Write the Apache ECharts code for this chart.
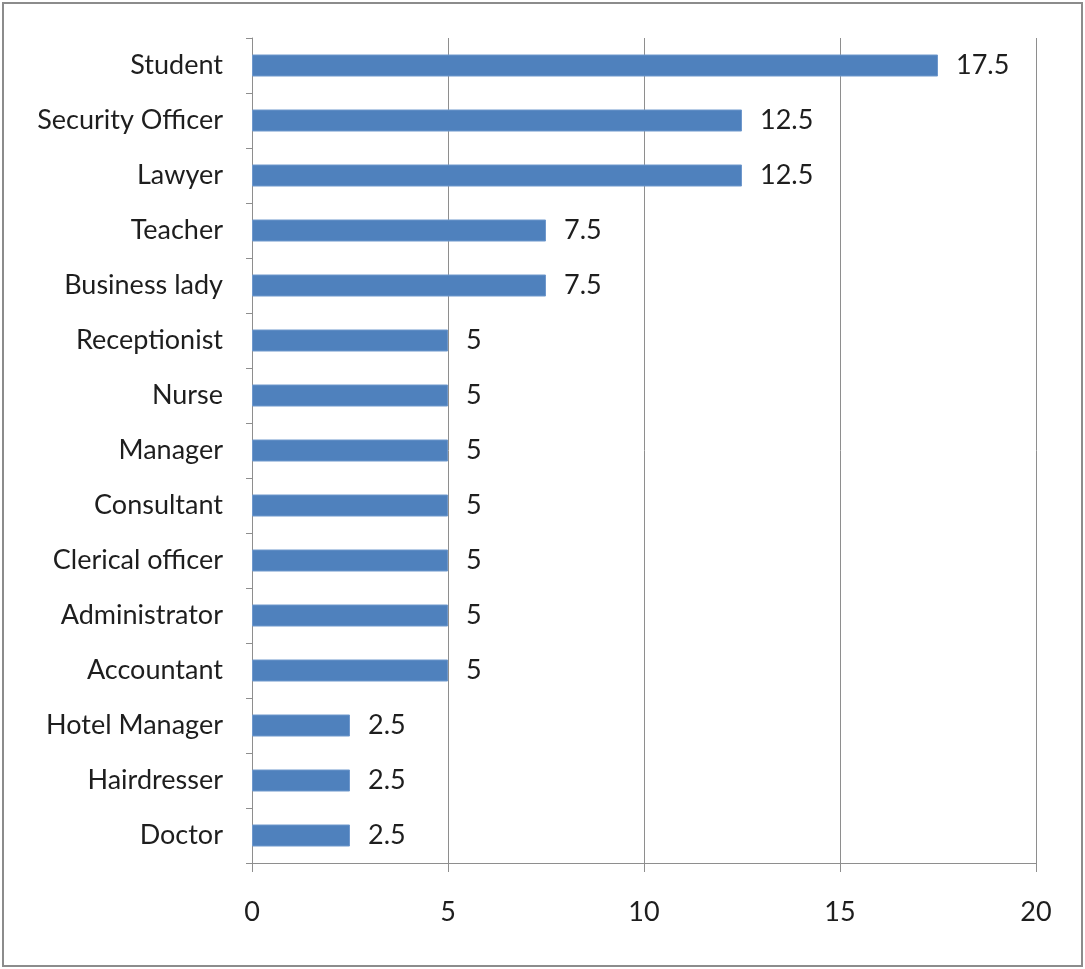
<!DOCTYPE html>
<html>
<head>
<meta charset="utf-8">
<script src="https://cdn.jsdelivr.net/npm/echarts@6/dist/echarts.min.js"></script>
<style>
  html, body { margin: 0; padding: 0; background: #fff; }
  #frame { position: absolute; left: 2px; top: 2px; width: 1077px; height: 961px; border: 2px solid #8c8c8c; box-sizing: content-box; }
  #chart { position: absolute; left: 0; top: 0; width: 1085px; height: 969px; }
</style>
</head>
<body>
<div id="frame"></div>
<div id="chart"></div>
<script>
// Occupations (bottom to top) and their percentages
const categories = ['Doctor', 'Hairdresser', 'Hotel Manager', 'Accountant', 'Administrator',
  'Clerical officer', 'Consultant', 'Manager', 'Nurse', 'Receptionist',
  'Business lady', 'Teacher', 'Lawyer', 'Security Officer', 'Student'];
const values = [2.5, 2.5, 2.5, 5, 5, 5, 5, 5, 5, 5, 7.5, 7.5, 12.5, 12.5, 17.5];
const xTicks = [0, 5, 10, 15, 20];

const FONT = 'Lato, "Open Sans", sans-serif';
const FONT_SIZE = 27;
const TEXT = '#1e1e1e';
const GRID = '#8e8e8e';

const chart = echarts.init(document.getElementById('chart'), null, { renderer: 'canvas' });
chart.setOption({
  animation: false,
  grid: { left: 252, right: 49, top: 38, bottom: 106, containLabel: false },
  xAxis: {
    type: 'value',
    min: xTicks[0],
    max: xTicks[xTicks.length - 1],
    interval: xTicks[1] - xTicks[0],
    axisLine: { show: true, lineStyle: { color: GRID, width: 1 } },
    axisTick: { show: true, length: 9, lineStyle: { color: GRID } },
    splitLine: { show: true, lineStyle: { color: GRID, width: 1 } },
    axisLabel: { color: TEXT, fontFamily: FONT, fontSize: FONT_SIZE, margin: 36 }
  },
  yAxis: {
    type: 'category',
    data: categories,
    axisLine: { show: true, lineStyle: { color: GRID, width: 1 } },
    axisTick: { show: true, length: 6, alignWithLabel: false, lineStyle: { color: GRID } },
    axisLabel: { color: TEXT, fontFamily: FONT, fontSize: FONT_SIZE, margin: 29 },
    splitLine: { show: false }
  },
  series: [{
    type: 'bar',
    data: values,
    barWidth: 22,
    itemStyle: { color: '#4f81bd', borderColor: '#6f98cc', borderWidth: 1 },
    label: {
      show: true,
      position: 'right',
      distance: 18,
      color: TEXT,
      fontFamily: FONT,
      fontSize: FONT_SIZE
    }
  }]
});
</script>
</body>
</html>
